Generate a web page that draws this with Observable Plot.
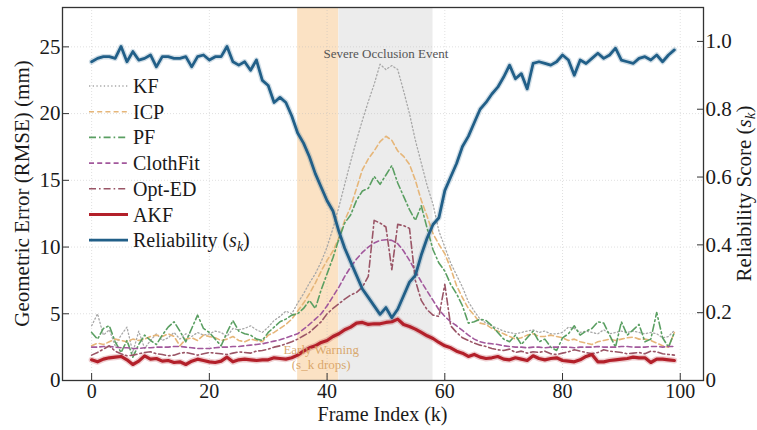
<!DOCTYPE html>
<html><head><meta charset="utf-8">
<script src="https://cdn.jsdelivr.net/npm/d3@7"></script>
<script src="https://cdn.jsdelivr.net/npm/@observablehq/plot@0.6"></script>
<style>
body{margin:0;background:#fff;}
#chart{position:relative;width:757px;height:430px;}
#chart svg, #chart svg text{font-family:"Liberation Serif","Tinos","Times New Roman","DejaVu Serif",serif;}
</style>
</head><body><div id="chart"></div>
<script>
// ---------- data ----------
const frames = d3.range(0, 100);
const KF = [4.1,5.0,3.4,3.8,2.6,3.4,4.0,2.1,3.7,2.4,3.0,3.5,3.0,3.2,3.6,3.1,3.5,3.3,3.6,3.4,
            3.5,3.7,3.6,3.3,3.9,3.8,3.9,4.1,3.8,3.6,4.0,4.5,4.8,5.2,5.0,5.8,6.5,7.3,8.0,8.9,
            10.0,11.4,13.0,14.7,16.4,18.0,19.5,20.9,22.2,23.7,23.3,23.6,23.3,21.7,20.0,18.0,16.3,14.6,13.2,11.2,
            10.0,8.8,7.9,7.0,5.9,5.2,4.6,4.3,4.1,3.9,3.7,3.6,3.5,3.6,3.7,3.8,3.6,3.7,3.5,3.5,
            3.6,4.0,3.9,3.6,3.7,3.6,3.5,3.8,3.5,3.6,3.7,3.6,3.7,3.6,3.5,3.6,3.5,3.2,3.3,3.75];
const ICP = [2.6,2.8,2.7,2.9,3.1,3.0,2.9,3.1,3.0,3.1,3.3,3.4,3.3,3.5,3.3,2.6,3.1,3.2,3.0,3.4,
             3.3,3.2,3.0,3.1,3.3,3.0,2.9,3.1,3.0,2.9,3.4,3.6,3.9,4.2,4.6,5.2,5.8,6.5,7.3,8.2,
             9.0,9.7,10.7,12.0,13.0,14.4,15.8,16.6,17.2,17.9,18.3,18.0,17.2,16.8,16.2,15.0,13.5,12.3,11.0,10.2,
             9.5,8.4,7.1,6.2,5.4,4.9,4.3,4.2,3.9,3.7,3.5,3.3,3.1,3.2,3.4,3.5,3.3,3.3,3.4,3.3,
             3.2,3.0,3.1,2.9,2.8,2.7,2.9,3.0,3.1,3.0,3.1,3.2,3.25,3.1,3.1,3.0,2.8,2.6,2.5,3.6];
const PF = [3.6,3.1,3.9,4.1,2.9,2.1,3.0,1.75,2.7,3.4,3.0,2.7,3.4,4.0,4.4,3.7,2.9,3.9,4.9,3.9,
            3.6,3.1,2.6,3.6,4.5,3.7,3.5,3.4,3.1,3.0,3.6,4.0,4.4,4.6,4.9,5.0,5.4,6.0,5.4,6.8,
            8.0,9.2,10.6,11.8,12.4,13.5,14.2,14.4,15.3,14.7,15.4,16.1,14.8,13.8,12.8,12.0,13.1,11.4,9.8,8.8,
            8.2,7.2,6.5,5.6,4.3,4.4,4.6,4.5,4.1,3.6,3.1,2.9,3.4,2.7,3.2,3.7,2.9,3.1,2.5,2.25,
            3.2,3.5,4.1,3.4,3.7,3.9,4.4,4.3,3.4,2.5,4.4,3.4,3.8,4.2,2.9,3.1,5.1,3.2,2.5,3.6];
const ClothFit = [2.5,2.5,2.55,2.55,2.5,2.45,2.45,2.4,2.4,2.45,2.45,2.5,2.5,2.5,2.55,2.55,2.5,2.45,2.4,2.4,
                  2.4,2.45,2.5,2.5,2.55,2.55,2.6,2.65,2.7,2.75,2.85,2.95,3.05,3.2,3.35,3.5,3.85,4.2,4.6,5.0,
                  5.6,6.3,7.0,7.8,8.5,9.1,9.6,10.0,10.3,10.5,10.55,10.5,10.25,9.7,9.0,8.2,7.4,6.7,6.0,5.3,
                  4.8,4.4,4.1,3.75,3.4,3.1,2.9,2.8,2.75,2.7,2.6,2.55,2.5,2.5,2.45,2.5,2.5,2.45,2.5,2.5,
                  2.5,2.5,2.45,2.5,2.5,2.5,2.55,2.5,2.5,2.5,2.55,2.55,2.5,2.5,2.5,2.55,2.55,2.5,2.55,2.55];
const OptED = [1.9,2.1,2.35,2.6,2.2,2.0,1.85,1.9,2.0,2.1,2.15,2.0,1.95,1.85,1.9,2.05,2.1,2.0,1.9,2.0,
               2.1,2.05,2.0,1.95,2.05,2.15,2.1,2.05,2.2,2.25,2.35,2.5,2.6,2.75,2.9,3.1,3.35,3.6,4.0,4.4,
               5.0,5.4,5.75,6.1,6.4,6.6,7.0,7.8,12.0,11.8,11.5,8.3,11.7,11.6,11.4,7.5,6.0,5.3,4.9,4.8,
               7.2,4.1,3.6,3.2,3.0,2.8,2.65,2.55,2.4,2.3,2.25,2.35,2.1,2.2,2.05,2.15,2.1,2.2,2.0,1.95,
               2.05,2.15,2.3,2.2,2.1,2.0,2.1,2.3,2.2,2.15,2.1,2.0,2.05,2.1,2.0,2.2,2.15,2.0,1.95,1.9];
const AKF = [1.55,1.4,1.6,1.7,1.75,1.8,1.55,1.2,1.45,1.85,1.6,1.65,1.45,1.5,1.35,1.4,1.2,1.45,1.6,1.5,
             1.4,1.35,1.45,1.75,1.4,1.55,1.6,1.55,1.5,1.55,1.55,1.7,1.65,1.6,1.7,1.9,2.2,2.45,2.6,2.85,
             3.0,3.3,3.5,3.8,4.0,4.3,4.35,4.2,4.25,4.25,4.35,4.4,4.6,4.2,4.05,3.85,3.6,3.35,3.15,2.85,
             2.6,2.45,2.2,2.05,1.8,1.95,1.75,1.65,1.7,1.8,1.6,1.55,1.7,1.6,1.5,1.85,1.65,1.55,1.65,1.7,
             1.5,1.45,1.4,1.55,1.8,1.95,1.4,1.4,1.5,1.55,1.6,1.65,1.75,1.7,1.7,1.35,1.6,1.6,1.55,1.5];
const reliability = [0.94,0.95,0.955,0.955,0.95,0.985,0.94,0.97,0.945,0.95,0.96,0.925,0.955,0.955,0.95,0.95,0.955,0.925,0.955,0.96,
                     0.945,0.955,0.955,0.985,0.94,0.93,0.94,0.915,0.945,0.885,0.87,0.82,0.835,0.82,0.78,0.73,0.70,0.66,0.61,0.57,
                     0.53,0.50,0.44,0.39,0.35,0.31,0.27,0.245,0.22,0.195,0.215,0.185,0.21,0.25,0.29,0.31,0.37,0.42,0.46,0.48,
                     0.56,0.60,0.64,0.69,0.72,0.76,0.80,0.82,0.845,0.865,0.895,0.93,0.89,0.905,0.86,0.935,0.94,0.935,0.93,0.94,
                     0.96,0.945,0.90,0.945,0.935,0.95,0.965,0.95,0.96,0.98,0.945,0.94,0.935,0.95,0.955,0.945,0.96,0.94,0.96,0.975];

const methodNames = ["KF","ICP","PF","ClothFit","Opt-ED","AKF"];
const methodSeries = [KF, ICP, PF, ClothFit, OptED, AKF];
const reliabilityName = "Reliability";

const xTicks = [0, 20, 40, 60, 80, 100];
const yTicks = [0, 5, 10, 15, 20, 25];
const rTicks = [0, 0.2, 0.4, 0.6, 0.8, 1.0];
const rTickLabels = ["0", "0.2", "0.4", "0.6", "0.8", "1.0"];

const warningBand = [{k1: 35, k2: 42}];
const occlusionBand = [{k1: 42, k2: 58}];
const occlusionNote = [{k: 50, e: 24.5, text: "Severe Occlusion Event"}];
const warningNote = [{k: 39, e: 1.8, text: "Early Warning\n(s_k drops)"}];

// ---------- styles ----------
const styles = [
  {color: "#a8a8a8", width: 1.3, dash: "1.3,2.4"},
  {color: "#e6b679", width: 1.6, dash: "5,3.2"},
  {color: "#5a9f62", width: 1.6, dash: "7,3,1.6,3"},
  {color: "#a2589c", width: 1.6, dash: "5,3.2"},
  {color: "#9a5566", width: 1.6, dash: "7,3,1.6,3"},
  {color: "#b3202a", width: 3.2, dash: null}
];
const relStyle = {color: "#215f88", width: 2.8};

const YMAX = 27.95, RMAX = 1.1, F = YMAX / RMAX;
const FONT = '"Liberation Serif","Tinos","Times New Roman","DejaVu Serif",serif';

const lineMarks = methodSeries.map((vals, j) => Plot.line(frames, {
  x: d => d, y: (d, i) => vals[i],
  stroke: styles[j].color, strokeWidth: styles[j].width,
  strokeDasharray: styles[j].dash || undefined, strokeLinejoin: "round"
}));

const chart = Plot.plot({
  width: 757, height: 430,
  marginLeft: 62, marginRight: 54, marginTop: 7, marginBottom: 50,
  style: {fontFamily: FONT, fontSize: "21px", color: "#1a1a1a", background: "white"},
  x: {domain: [-4.95, 103.95]},
  y: {domain: [0, YMAX]},
  marks: [
    Plot.rect(warningBand, {x1: "k1", x2: "k2", fill: "#fbe2c4"}),
    Plot.rect(occlusionBand, {x1: "k1", x2: "k2", fill: "#ececec"}),
    Plot.gridX(xTicks, {stroke: "#bbbbbb", strokeOpacity: 0.45, strokeDasharray: "1,2"}),
    Plot.gridY(yTicks, {stroke: "#bbbbbb", strokeOpacity: 0.45, strokeDasharray: "1,2"}),
    Plot.line(frames, {x: d => d, y: (d, i) => AKF[i], stroke: "#b3202a", strokeOpacity: 0.22, strokeWidth: 6}),
    ...lineMarks,
    Plot.line(frames, {x: d => d, y: (d, i) => reliability[i] * F, stroke: "#215f88", strokeOpacity: 0.2, strokeWidth: 5.5}),
    Plot.line(frames, {x: d => d, y: (d, i) => reliability[i] * F, stroke: relStyle.color, strokeWidth: relStyle.width, strokeLinejoin: "round"}),
    Plot.text(occlusionNote, {x: "k", y: "e", text: "text", fill: "#555", fontSize: 13}),
    Plot.text(warningNote, {x: "k", y: "e", text: "text", fill: "#d6a060", fillOpacity: 0.9, fontSize: 13, lineHeight: 1.15}),
    Plot.axisX(xTicks, {tickSize: -7, tickPadding: 10, label: null, fontSize: 20, stroke: "#333"}),
    Plot.axisY(yTicks, {tickSize: -7, tickPadding: 9, label: null, fontSize: 21, stroke: "#333"}),
    Plot.axisY(rTicks.map(t => t * F), {anchor: "right", tickSize: -7, tickPadding: 9, label: null, fontSize: 21, stroke: "#333",
      tickFormat: d => rTickLabels[rTicks.findIndex(t => Math.abs(t * F - d) < 1e-6)]}),
    Plot.frame({stroke: "#333", strokeWidth: 1.3})
  ]
});

document.getElementById("chart").appendChild(chart);

// ---------- axis titles & legend ----------
const svgSel = d3.select(chart);
const frameTop = 7, frameBottom = 380;
const midY = (frameTop + frameBottom) / 2;

svgSel.append("text").attr("transform", `translate(22,${midY}) rotate(-90)`)
  .attr("text-anchor", "middle").attr("dy", "0.35em")
  .style("font-family", FONT).style("font-size", "21px").attr("fill", "#1a1a1a")
  .text("Geometric Error (RMSE) (mm)");

const rl = svgSel.append("text").attr("transform", `translate(744,${midY}) rotate(-90)`)
  .attr("text-anchor", "middle").attr("dy", "0.35em")
  .style("font-family", FONT).style("font-size", "21px").attr("fill", "#1a1a1a");
rl.append("tspan").text("Reliability Score (");
rl.append("tspan").attr("font-style", "italic").text("s");
rl.append("tspan").attr("font-style", "italic").attr("font-size", "15px").attr("dy", "4").text("k");
rl.append("tspan").attr("dy", "-4").text(")");

svgSel.append("text").attr("x", (62 + 703) / 2).attr("y", 421)
  .attr("text-anchor", "middle")
  .style("font-family", FONT).style("font-size", "20px").attr("fill", "#1a1a1a")
  .text("Frame Index (k)");

const legendItems = methodNames.map((n, j) => ({name: n, ...styles[j]}))
  .concat([{name: reliabilityName, color: relStyle.color, width: relStyle.width, dash: null}]);
const lg = svgSel.append("g").style("font-family", FONT).style("font-size", "20px").attr("text-anchor", "start");
legendItems.forEach((it, i) => {
  const yy = 86 + i * 25.7;
  lg.append("line").attr("x1", 89).attr("x2", 128).attr("y1", yy).attr("y2", yy)
    .attr("stroke", it.color).attr("stroke-width", it.width)
    .attr("stroke-dasharray", it.dash || null);
  const t = lg.append("text").attr("x", 133).attr("y", yy).attr("dy", "0.35em")
    .attr("text-anchor", "start").attr("fill", "#1a1a1a");
  if (it.name === reliabilityName) {
    t.append("tspan").text("Reliability (");
    t.append("tspan").attr("font-style", "italic").text("s");
    t.append("tspan").attr("font-style", "italic").attr("font-size", "14px").attr("dy", "4").text("k");
    t.append("tspan").attr("dy", "-4").text(")");
  } else {
    t.text(it.name);
  }
});
</script>
</body></html>
